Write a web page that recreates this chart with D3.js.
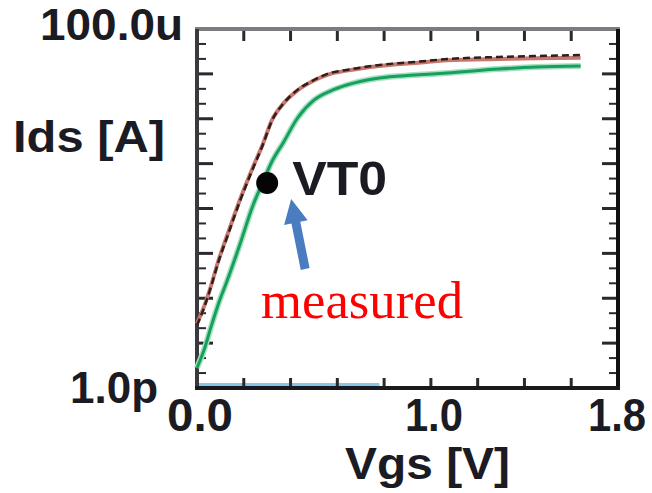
<!DOCTYPE html>
<html>
<head>
<meta charset="utf-8">
<script src="https://cdn.jsdelivr.net/npm/d3@7"></script>
<style>
  html, body { margin: 0; padding: 0; background: #fff; }
  svg { display: block; }
  .lbl { font-family: "Liberation Sans", Arial, sans-serif; font-weight: bold; fill: #1b1b24; }
</style>
</head>
<body>
<svg id="chart" width="652" height="493"></svg>
<script>
// data
const vgs = [0.00, 0.03, 0.06, 0.09, 0.13, 0.18, 0.24, 0.28, 0.32, 0.37, 0.43, 0.50, 0.57, 0.64, 0.78, 0.93, 1.07, 1.29, 1.45, 1.64];
const idsBlack = [2.5e-11, 6.1e-11, 1.8e-10, 6.1e-10, 2.4e-9, 1.3e-8, 8.0e-8, 2.5e-7, 9.0e-7, 2.2e-6, 4.4e-6, 7.3e-6, 1.05e-5, 1.22e-5, 1.58e-5, 1.84e-5, 2.14e-5, 2.38e-5, 2.5e-5, 2.63e-5];
const idsRed   = [2.7e-11, 6.5e-11, 1.9e-10, 6.5e-10, 2.6e-9, 1.4e-8, 8.5e-8, 2.6e-7, 9.2e-7, 2.2e-6, 4.3e-6, 7.1e-6, 1.0e-5, 1.18e-5, 1.5e-5, 1.75e-5, 2.0e-5, 2.15e-5, 2.22e-5, 2.3e-5];
const idsGreen = [2.8e-12, 7.0e-12, 2.3e-11, 7.1e-11, 2.55e-10, 1.4e-9, 1.2e-8, 3.7e-8, 1.1e-7, 3.0e-7, 1.04e-6, 2.6e-6, 4.15e-6, 5.65e-6, 8.1e-6, 9.4e-6, 1.05e-5, 1.28e-5, 1.42e-5, 1.5e-5];
const vgsFloor = [0.0, 0.78];
const idsFloor = [1e-12, 1e-12];
const vt0 = { vgs: 0.30, ids: 3.7e-8 };

const xTickVals = [0.0, 1.0, 1.8];
const xTickLabels = ["0.0", "1.0", "1.8"];
const yTickVals = [1e-4, 1e-12];
const yTickLabels = ["100.0u", "1.0p"];

const svg = d3.select("#chart");
const pl = 197, pr = 618, pt = 29, pb = 388;

const x = d3.scaleLinear().domain([0, 1.8]).range([pl, pr]);
const y = d3.scaleLog().domain([1e-12, 1e-4]).range([pb, pt]);

const line = d3.line()
  .x(d => x(d[0]))
  .y(d => y(d[1]))
  .curve(d3.curveMonotoneX);

svg.append("rect").attr("width", 652).attr("height", 493).attr("fill", "#fff");

// light blue trace lying on the floor
svg.append("path")
  .attr("d", line(d3.zip(vgsFloor, idsFloor)))
  .attr("transform", "translate(0,-3)")
  .attr("fill", "none").attr("stroke", "#86c6e8").attr("stroke-width", 4);

// ticks, minor every third of a decade
const g = svg.append("g").attr("stroke", "#2a2a2e");
const yt = d3.range(-36, -11).map(k => Math.pow(10, k / 3));
yt.forEach((v, i) => {
  const major = (i % 3 === 0);
  const len = major ? 16 : 9;
  const yy = y(v);
  g.append("line").attr("x1", pl).attr("x2", pl + len).attr("y1", yy).attr("y2", yy)
    .attr("stroke-width", major ? 3 : 2);
  g.append("line").attr("x1", pr).attr("x2", pr - len).attr("y1", yy).attr("y2", yy)
    .attr("stroke-width", major ? 3 : 2);
});
d3.range(0, 10).map(i => i * 0.2).forEach(v => {
  g.append("line").attr("x1", x(v)).attr("x2", x(v)).attr("y1", pb).attr("y2", pb - 10).attr("stroke-width", 3);
  g.append("line").attr("x1", x(v)).attr("x2", x(v)).attr("y1", pt).attr("y2", pt + 12).attr("stroke-width", 3);
});

// frame
svg.append("line").attr("x1", pl - 2).attr("x2", pr + 2).attr("y1", pt).attr("y2", pt)
  .attr("stroke", "#7c7c80").attr("stroke-width", 4);
svg.append("line").attr("x1", pl).attr("x2", pl).attr("y1", pt).attr("y2", pb)
  .attr("stroke", "#3a3a3e").attr("stroke-width", 4);
svg.append("line").attr("x1", pr).attr("x2", pr).attr("y1", pt).attr("y2", pb)
  .attr("stroke", "#111").attr("stroke-width", 4);
svg.append("line").attr("x1", pl - 2).attr("x2", pr + 2).attr("y1", pb).attr("y2", pb)
  .attr("stroke", "#1a1a1c").attr("stroke-width", 4);

// curves
svg.append("path").attr("d", line(d3.zip(vgs, idsGreen)))
  .attr("fill", "none").attr("stroke", "#a6e0c4").attr("stroke-width", 6);
svg.append("path").attr("d", line(d3.zip(vgs, idsGreen)))
  .attr("fill", "none").attr("stroke", "#17a05c").attr("stroke-width", 3);
svg.append("path").attr("d", line(d3.zip(vgs, idsRed)))
  .attr("fill", "none").attr("stroke", "#c9776c").attr("stroke-width", 4);
svg.append("path").attr("d", line(d3.zip(vgs, idsBlack)))
  .attr("fill", "none").attr("stroke", "#2b1f20").attr("stroke-width", 2.5)
  .attr("stroke-dasharray", "7 4");

// VT0 marker, label and arrow
const px = x(vt0.vgs), py = y(vt0.ids);
svg.append("circle").attr("cx", px).attr("cy", py).attr("r", 11).attr("fill", "#050505");
svg.append("text").attr("class", "lbl").attr("x", px + 25).attr("y", py + 12)
  .attr("font-size", 48).attr("fill", "#000").attr("textLength", 95).attr("lengthAdjust", "spacingAndGlyphs")
  .text("VT0");

const tip = [px + 24, py + 16], tail = [px + 38, py + 86];
const dx = tip[0] - tail[0], dy = tip[1] - tail[1], L = Math.hypot(dx, dy);
const ux = dx / L, uy = dy / L, nx = -uy, ny = ux;
const hl = 24, hw = 12, sw = 4.5;
const b = [tip[0] - ux * hl, tip[1] - uy * hl];
const arrowPts = [
  [tail[0] + nx * sw, tail[1] + ny * sw],
  [b[0] + nx * sw, b[1] + ny * sw],
  [b[0] + nx * hw, b[1] + ny * hw],
  tip,
  [b[0] - nx * hw, b[1] - ny * hw],
  [b[0] - nx * sw, b[1] - ny * sw],
  [tail[0] - nx * sw, tail[1] - ny * sw]
];
svg.append("path").attr("d", "M" + arrowPts.map(p => p.join(",")).join("L") + "Z")
  .attr("fill", "#4a7cc0");

svg.append("text").attr("x", 261).attr("y", 318)
  .attr("font-family", "'Liberation Serif', 'Times New Roman', serif")
  .attr("font-size", 52).attr("fill", "#ff0000")
  .attr("textLength", 202).attr("lengthAdjust", "spacingAndGlyphs")
  .text("measured");

// axis labels
svg.append("text").attr("class", "lbl").attr("x", 183).attr("y", 40).attr("text-anchor", "end")
  .attr("font-size", 44).attr("textLength", 143).attr("lengthAdjust", "spacingAndGlyphs")
  .text(yTickLabels[0]);
svg.append("text").attr("class", "lbl").attr("x", 158).attr("y", y(yTickVals[1]) + 15).attr("text-anchor", "end")
  .attr("font-size", 44).attr("textLength", 88).attr("lengthAdjust", "spacingAndGlyphs")
  .text(yTickLabels[1]);
svg.append("text").attr("class", "lbl").attr("x", 13).attr("y", 152)
  .attr("font-size", 44).attr("textLength", 152).attr("lengthAdjust", "spacingAndGlyphs")
  .text("Ids [A]");

xTickVals.forEach((v, i) => {
  const cx = Math.min(x(v) + 3, 617);
  svg.append("text").attr("class", "lbl").attr("x", cx).attr("y", 431).attr("text-anchor", "middle")
    .attr("font-size", 46).attr("textLength", i === 0 ? 66 : 58).attr("lengthAdjust", "spacingAndGlyphs")
    .text(xTickLabels[i]);
});
svg.append("text").attr("class", "lbl").attr("x", 345).attr("y", 479)
  .attr("font-size", 45).attr("textLength", 165).attr("lengthAdjust", "spacingAndGlyphs")
  .text("Vgs [V]");
</script>
</body>
</html>
